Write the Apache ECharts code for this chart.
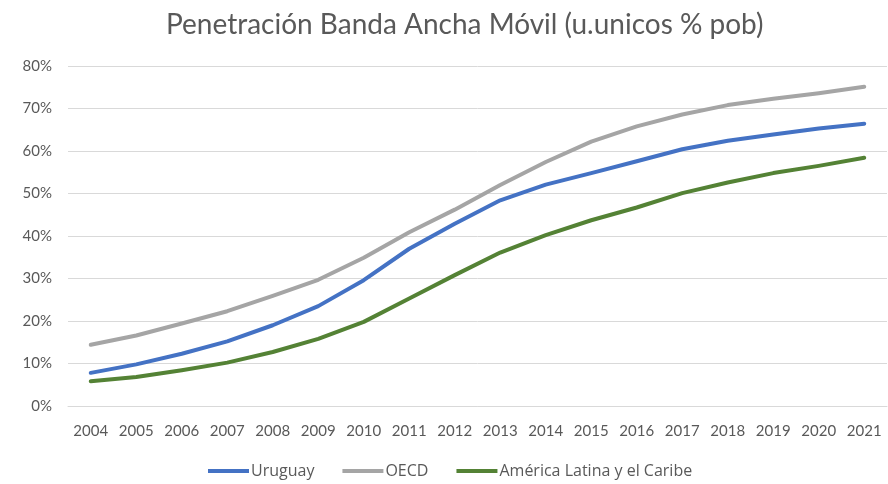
<!DOCTYPE html>
<html>
<head>
<meta charset="utf-8">
<script src="https://cdn.jsdelivr.net/npm/echarts@6/dist/echarts.min.js"></script>
<style>
  html, body { margin: 0; padding: 0; background: #fff; }
  #chart { width: 888px; height: 484px; }
</style>
</head>
<body>
<div id="chart"></div>
<script>
// datos
var years = ['2004','2005','2006','2007','2008','2009','2010','2011','2012','2013','2014','2015','2016','2017','2018','2019','2020','2021'];
var uruguay = [7.8, 9.8, 12.3, 15.2, 19.0, 23.5, 29.6, 37.0, 42.9, 48.4, 52.1, 54.8, 57.6, 60.4, 62.4, 63.9, 65.3, 66.4];
var oecd = [14.4, 16.6, 19.4, 22.3, 25.9, 29.7, 34.9, 40.9, 46.2, 52.0, 57.4, 62.2, 65.8, 68.6, 70.8, 72.3, 73.6, 75.1];
var latam = [5.8, 6.8, 8.4, 10.2, 12.7, 15.8, 19.8, 25.3, 30.8, 36.1, 40.2, 43.7, 46.7, 50.1, 52.6, 54.8, 56.5, 58.4];
var yTicks = [0, 10, 20, 30, 40, 50, 60, 70, 80];

var font = 'Lato, "Open Sans", sans-serif';
var textColor = '#595959';

function serie(name, data, color){
	return {
		name: name,
		type: 'line',
		data: data,
		symbol: 'none',
		smooth: false,
		lineStyle: { width: 4, color: color, cap: 'round', join: 'round' },
		itemStyle: { color: color }
	};
}

var option = {
	animation: false,
	textStyle: { fontFamily: font },
	title: {
		text: 'Penetración Banda Ancha Móvil (u.unicos % pob)',
		left: 161,
		top: 6,
		textStyle: { fontFamily: font, fontSize: 28, fontWeight: 'normal', color: textColor }
	},
	legend: {
		bottom: 0,
		left: 203,
		itemWidth: 41,
		itemHeight: 4,
		itemGap: 28,
		icon: 'rect',
		textStyle: { fontFamily: '"Open Sans", sans-serif', fontSize: 16, color: textColor, padding: [0, 0, 0, -3] },
		data: ['Uruguay', 'OECD', 'América Latina y el Caribe']
	},
	grid: { left: 68, right: 1, top: 66, bottom: 78, containLabel: false },
	xAxis: {
		type: 'category',
		data: years,
		boundaryGap: true,
		axisLine: { show: true, lineStyle: { color: '#D9D9D9', width: 1 } },
		axisTick: { show: false },
		axisLabel: { color: textColor, fontSize: 15, margin: 18, fontFamily: font, interval: 0 }
	},
	yAxis: {
		type: 'value',
		min: yTicks[0],
		max: yTicks[yTicks.length - 1],
		interval: 10,
		axisLine: { show: false },
		axisTick: { show: false },
		splitLine: { lineStyle: { color: '#D9D9D9', width: 1 } },
		axisLabel: { color: textColor, fontSize: 15, margin: 16, fontFamily: font, formatter: '{value}%' }
	},
	series: [
		serie('Uruguay', uruguay, '#4472C4'),
		serie('OECD', oecd, '#A5A5A5'),
		serie('América Latina y el Caribe', latam, '#548235')
	]
};

var chart = echarts.init(document.getElementById('chart'));
chart.setOption(option);
</script>
</body>
</html>
